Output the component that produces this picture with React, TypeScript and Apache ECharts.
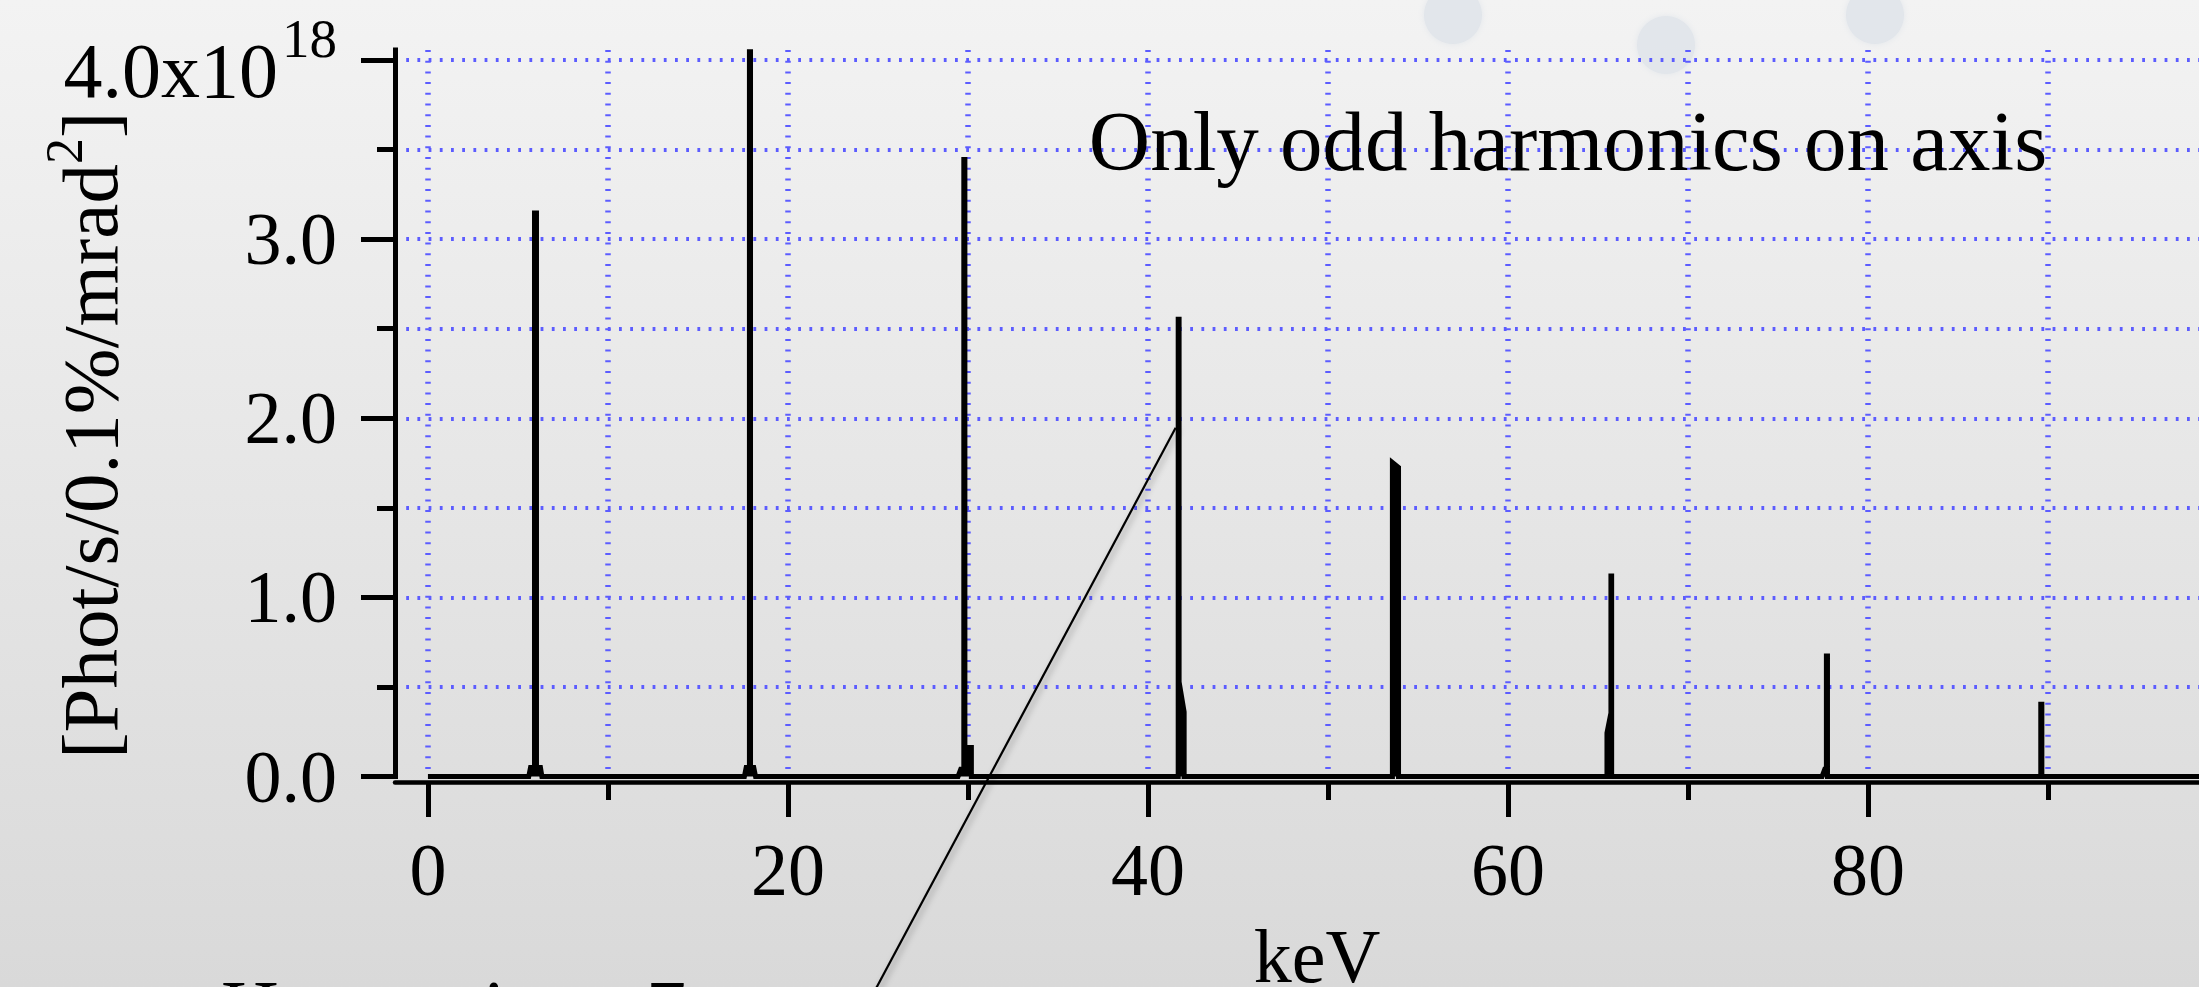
import { useEffect, useRef } from 'react';
import * as echarts from 'echarts';

const FONT = '"Liberation Serif", "Times New Roman", Times, serif';

// Axis ticks / grid values
const xMajorTicks = [0, 20, 40, 60, 80];
const xMinorTicks = [10, 30, 50, 70, 90];
const xGridLines = [0, 10, 20, 30, 40, 50, 60, 70, 80, 90];
const yMajorTicks = [0, 1, 2, 3, 4];
const yMinorTicks = [0.5, 1.5, 2.5, 3.5];
const yGridLines = [0.5, 1, 1.5, 2, 2.5, 3, 3.5, 4];
const xExtent = [-1.83, 98.39];
const yExtent = [0, 4.056];

// Spectrum around each odd harmonic: [keV, flux in 1e18 Phot/s/0.1%/mrad^2]
const harmonic1: number[][] = [[5.6, 0], [5.7, 0.05], [5.92, 0.05], [5.92, 3.146], [6.03, 3.146], [6.03, 0.05], [6.25, 0.05], [6.33, 0]];
const harmonic3: number[][] = [[17.58, 0], [17.68, 0.05], [17.86, 0.05], [17.86, 4.046], [17.92, 4.046], [17.92, 0.05], [18.1, 0.05], [18.2, 0]];
const harmonic5: number[][] = [[29.45, 0], [29.6, 0.04], [29.77, 0.04], [29.77, 3.445], [29.83, 3.445], [29.83, 0.162], [30.19, 0.162], [30.19, 0]];
const harmonic7: number[][] = [[41.68, 0], [41.68, 2.553], [41.73, 2.553], [41.73, 0.528], [42.01, 0.36], [42.01, 0]];
const harmonic9: number[][] = [[53.58, 0], [53.58, 1.753], [53.92, 1.725], [53.92, 0]];
const harmonic11: number[][] = [[65.5, 0], [65.5, 0.243], [65.72, 0.355], [65.72, 1.119], [65.76, 1.119], [65.76, 0]];
const harmonic13: number[][] = [[77.45, 0], [77.6, 0.04], [77.69, 0.04], [77.69, 0.673], [77.75, 0.673], [77.75, 0]];
const harmonic15: number[][] = [[89.6, 0], [89.6, 0.404], [89.66, 0.404], [89.66, 0]];

// Leader line from the lower-left label to the 7th harmonic
const annotationLine: number[][] = [[23.74, -1.4], [41.54, 1.947]];

const valueAxisBase = (min: number, max: number) => ({
  type: 'value',
  min,
  max,
  axisLine: { show: false, onZero: false },
  axisTick: { show: false },
  axisLabel: { show: false },
  splitLine: { show: false },
  minorTick: { show: false },
  minorSplitLine: { show: false },
});

export default function App() {
  const ref = useRef<HTMLDivElement>(null);

  useEffect(() => {
    const chart = echarts.init(ref.current!, null, { renderer: 'svg', width: 2199, height: 987 });
    const spectrum = [
      [0, 0],
      ...harmonic1, ...harmonic3, ...harmonic5, ...harmonic7,
      ...harmonic9, ...harmonic11, ...harmonic13, ...harmonic15,
      [xExtent[1], 0],
    ];

    const option: any = {
      animation: false,
      backgroundColor: 'transparent',
      grid: { left: 395, right: 0, top: 50, bottom: 210.5, containLabel: false, outerBoundsMode: 'none' },
      xAxis: [
        {
          ...valueAxisBase(xExtent[0], xExtent[1]),
          position: 'bottom',
          offset: 5.5,
          z: 3,
          axisLine: { show: true, onZero: false, lineStyle: { color: '#000', width: 4.5 } },
          axisTick: { show: true, customValues: xMajorTicks, length: 35, lineStyle: { color: '#000', width: 5 } },
          axisLabel: { show: true, customValues: xMajorTicks, margin: 51, fontSize: 74, fontFamily: FONT, color: '#000' },
          name: 'keV',
          nameLocation: 'middle',
          nameGap: 144,
          nameMoveOverlap: false,
          nameTextStyle: { fontSize: 76, lineHeight: 60, fontFamily: FONT, color: '#000', padding: [0, 0, 0, 40] },
        },
        {
          ...valueAxisBase(xExtent[0], xExtent[1]),
          position: 'bottom',
          offset: 5.5,
          z: 3,
          axisTick: { show: true, customValues: xMinorTicks, length: 18, lineStyle: { color: '#000', width: 5 } },
        },
        {
          ...valueAxisBase(xExtent[0], xExtent[1]),
          position: 'bottom',
          z: 1,
          axisTick: { show: false, customValues: xGridLines },
          splitLine: { show: true, lineStyle: { color: '#5c5cff', width: 5.5, type: [2, 8.7] } },
        },
      ],
      yAxis: [
        {
          ...valueAxisBase(yExtent[0], yExtent[1]),
          position: 'left',
          z: 3,
          axisLine: { show: true, onZero: false, lineStyle: { color: '#000', width: 5, cap: 'square' } },
          axisTick: { show: true, customValues: yMajorTicks, length: 34, lineStyle: { color: '#000', width: 5 } },
          axisLabel: {
            show: true,
            customValues: yMajorTicks,
            margin: 58,
            fontSize: 74,
            fontFamily: FONT,
            color: '#000',
            formatter: (v: number) => (v === 4 ? '{m|4.0x10}{s|18}' : v.toFixed(1)),
            rich: {
              m: { fontSize: 78, lineHeight: 78, fontFamily: FONT, color: '#000', verticalAlign: 'bottom' },
              s: { fontSize: 55, lineHeight: 98, fontFamily: FONT, color: '#000', verticalAlign: 'top', padding: [0, 0, 43, 4] },
            },
          },
          name: '{m|[Phot/s/0.1%/mrad}{s|2}{m|]}',
          nameLocation: 'middle',
          nameRotate: 90,
          nameGap: 265,
          nameMoveOverlap: false,
          nameTextStyle: {
            fontSize: 79,
            fontFamily: FONT,
            color: '#000',
            padding: [0, 44, 0, 0],
            rich: {
              m: { fontSize: 79, lineHeight: 79, fontFamily: FONT, color: '#000', verticalAlign: 'bottom' },
              s: { fontSize: 52, lineHeight: 92, fontFamily: FONT, color: '#000', verticalAlign: 'top', padding: [0, 0, 40, 0] },
            },
          },
        },
        {
          ...valueAxisBase(yExtent[0], yExtent[1]),
          position: 'left',
          z: 3,
          axisTick: { show: true, customValues: yMinorTicks, length: 18, lineStyle: { color: '#000', width: 5 } },
        },
        {
          ...valueAxisBase(yExtent[0], yExtent[1]),
          position: 'left',
          z: 1,
          axisTick: { show: false, customValues: yGridLines },
          splitLine: { show: true, lineStyle: { color: '#5c5cff', width: 4, type: [2.8, 8.4] } },
        },
      ],
      series: [
        {
          type: 'line',
          name: 'Spectrum',
          data: spectrum,
          xAxisIndex: 0,
          yAxisIndex: 0,
          symbol: 'none',
          showSymbol: false,
          clip: false,
          z: 2,
          silent: true,
          lineStyle: { color: '#000', width: 5, cap: 'butt', join: 'miter' },
          areaStyle: { color: '#000', opacity: 1 },
        },
        {
          type: 'line',
          name: 'Leader',
          data: annotationLine,
          xAxisIndex: 0,
          yAxisIndex: 0,
          symbol: 'none',
          showSymbol: false,
          clip: false,
          z: 4,
          silent: true,
          lineStyle: {
            color: '#000',
            width: 2.2,
            shadowBlur: 6,
            shadowColor: 'rgba(0,0,0,0.35)',
            shadowOffsetX: 3,
            shadowOffsetY: 2,
          },
        },
      ],
      graphic: [
        { type: 'circle', z: 0, silent: true, shape: { cx: 1453, cy: 15, r: 29 }, style: { fill: '#e2e6eb', shadowBlur: 6, shadowColor: '#e2e6eb' } },
        { type: 'circle', z: 0, silent: true, shape: { cx: 1666, cy: 45, r: 29 }, style: { fill: '#e2e6eb', shadowBlur: 6, shadowColor: '#e2e6eb' } },
        { type: 'circle', z: 0, silent: true, shape: { cx: 1875, cy: 15, r: 29 }, style: { fill: '#e2e6eb', shadowBlur: 6, shadowColor: '#e2e6eb' } },
        {
          type: 'text', z: 10, x: 1568, y: 141,
          style: {
            text: 'Only odd harmonics on axis', fontSize: 85, fontFamily: FONT, fill: '#000',
            align: 'center', verticalAlign: 'middle', textAlign: 'center', textVerticalAlign: 'middle',
          },
        },
        {
          type: 'text', z: 10, x: 221, y: 1009,
          style: {
            text: 'Harmonic n=7', fontSize: 80, fontFamily: FONT, fill: '#000',
            align: 'left', verticalAlign: 'middle', textAlign: 'left', textVerticalAlign: 'middle',
          },
        },
      ],
    };

    chart.setOption(option);
    return () => chart.dispose();
  }, []);

  return (
    <div
      ref={ref}
      style={{
        position: 'fixed',
        left: 0,
        top: 0,
        width: 2199,
        height: 987,
        background: 'linear-gradient(#f3f3f3, #d9d9d9)',
      }}
    />
  );
}
